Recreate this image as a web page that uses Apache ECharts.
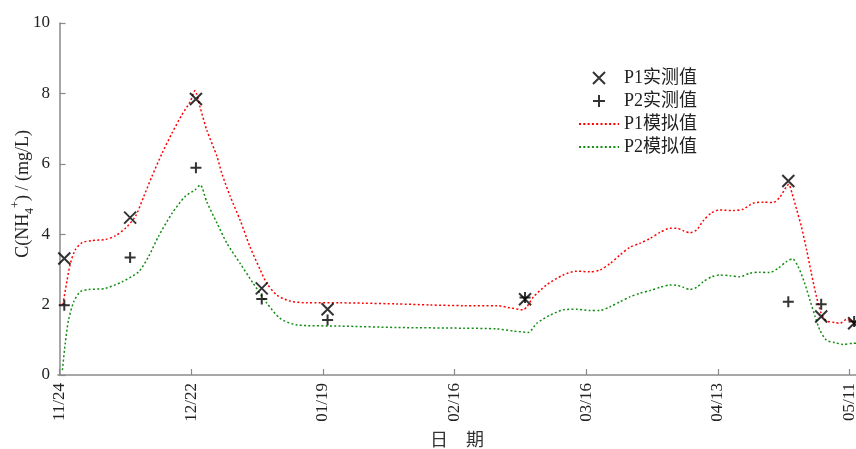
<!DOCTYPE html>
<html>
<head>
<meta charset="utf-8">
<script src="https://cdn.jsdelivr.net/npm/echarts@6/dist/echarts.min.js"></script>
<style>
  html, body { margin: 0; padding: 0; background: #ffffff; }
  #chart { width: 856px; height: 449px; }
</style>
</head>
<body>
<div id="chart"></div>
<script>
// Season runs 11/24 -> 05/11 (non-leap year); x positions are day offsets from 11/24.
const tickDates = ['11/24', '12/22', '01/19', '02/16', '03/16', '04/13', '05/11'];

// Sampling dates and measured NH4+ concentrations (mg/L)
const sampleDates = ['11/25', '12/09', '12/23', '01/06', '01/20', '03/03', '04/28', '05/05', '05/12'];
const p1Measured = [3.31, 4.47, 7.84, 2.46, 1.87, 2.15, 5.51, 1.66, 1.47];
const p2Measured = [1.98, 3.34, 5.89, 2.16, 1.56, 2.20, 2.08, 2.01, 1.52];

// Simulated series (day offset, mg/L)
const p1ModelDays = [0.7, 1.6, 2.3, 3.3, 4.8, 6.9, 9.7, 11.8, 14, 16.1, 17.9, 19.6, 21.8, 23.9, 26, 27.8, 28.8, 29.9, 31.3, 33.5,
  34.5, 36.3, 38.4, 40.5, 42.7, 44.1, 46.2, 49, 52.6, 59.7, 64.6, 71.7, 78.8, 85.9, 93, 95.8, 98.6, 99.4, 100.8, 103.6,
  107.1, 110, 112.8, 114.9, 117.1, 119.2, 121.3, 123.4, 125.6, 127.7, 129.8, 131.2, 132.7, 134.1, 135.5, 136.9, 138.7, 140.4,
  143.3, 145.4, 147.5, 149.7, 151.8, 153.2, 154.6, 155.1, 155.8, 156.8, 157.8, 158.9, 159.9, 161, 162, 163.1, 164.9, 166,
  167.4, 168.8, 169.4];
const p1Model = [2.0, 2.70, 3.17, 3.55, 3.76, 3.82, 3.85, 3.95, 4.17, 4.50, 5.07, 5.63, 6.30, 6.87, 7.39, 7.77, 8.08, 7.60, 6.96, 6.20,
  5.73, 5.07, 4.40, 3.64, 2.98, 2.60, 2.27, 2.10, 2.05, 2.05, 2.04, 2.02, 1.99, 1.97, 1.97, 1.91, 1.85, 1.94, 2.22, 2.56,
  2.84, 2.95, 2.93, 2.98, 3.17, 3.41, 3.63, 3.74, 3.88, 4.05, 4.17, 4.17, 4.10, 4.04, 4.12, 4.38, 4.61, 4.69,
  4.67, 4.71, 4.88, 4.91, 4.90, 5.05, 5.35, 5.42, 5.16, 4.69, 4.21, 3.55, 2.89, 2.22, 1.75, 1.54, 1.49, 1.47,
  1.58, 1.51, 1.50];

const p2ModelDays = [0.6, 1.2, 1.9, 3.0, 4.4, 6.2, 9.7, 13.3, 16.8, 18.9, 21, 23.9, 26.7, 28.8, 29.9, 31.3, 33.5, 35.6, 38.4, 41.2,
  44.1, 46.9, 50.5, 59.7, 71.7, 85.9, 93, 96.5, 99.7, 101.5, 104.3, 107.1, 110, 112.8, 114.9, 117.1, 119.2, 121.3, 123.4, 125.6,
  127.7, 129.8, 131.2, 132.7, 134.1, 135.5, 136.9, 138.7, 140.4, 142.6, 144.7, 146.8, 148.9, 151, 152.8, 154.6, 155.9, 157.1,
  158.5, 159.6, 160.7, 161.7, 163.1, 164.9, 166.6, 168.8, 169.4];
const p2Model = [0.14, 0.90, 1.56, 2.08, 2.37, 2.43, 2.46, 2.65, 2.93, 3.36, 3.93, 4.59, 5.07, 5.26, 5.40, 4.92, 4.31, 3.74, 3.17, 2.60,
  2.04, 1.61, 1.42, 1.39, 1.35, 1.33, 1.31, 1.25, 1.21, 1.47, 1.70, 1.85, 1.87, 1.83, 1.83, 1.94, 2.08, 2.22, 2.32, 2.40,
  2.49, 2.56, 2.55, 2.49, 2.43, 2.49, 2.65, 2.79, 2.84, 2.82, 2.79, 2.89, 2.92, 2.91, 3.03, 3.22, 3.30, 3.08,
  2.60, 2.13, 1.66, 1.28, 0.99, 0.92, 0.87, 0.90, 0.90];

const DAY = 86400000;
const ORIGIN = Date.UTC(2013, 10, 24);

function dayOffset(md) {
  const [m, d] = md.split('/').map(Number);
  const y = m >= 11 ? 2013 : 2014;
  return Math.round((Date.UTC(y, m - 1, d) - ORIGIN) / DAY);
}
function dayLabel(v) {
  const t = new Date(ORIGIN + Math.round(v) * DAY);
  const mm = String(t.getUTCMonth() + 1).padStart(2, '0');
  const dd = String(t.getUTCDate()).padStart(2, '0');
  return mm + '/' + dd;
}
const zip = (xs, ys) => xs.map((x, i) => [x, ys[i]]);

const tickDays = tickDates.map(dayOffset);
const sampleDays = sampleDates.map(dayOffset);

const FONT = '"Liberation Serif", "Times New Roman", "Noto Sans CJK SC", serif';
const AXIS_GRAY = '#8a8a8a';
const RED = '#ff0000';
const GREEN = '#128c12';
const CROSS = 'path://M0,0L10,10M10,0L0,10';
const PLUS = 'path://M5,0L5,10M0,5L10,5';

const chart = echarts.init(document.getElementById('chart'), null, { renderer: 'canvas' });

chart.setOption({
  animation: false,
  backgroundColor: '#ffffff',
  textStyle: { fontFamily: FONT },
  grid: { left: 58, right: 0, top: 23, bottom: 74, containLabel: false, outerBoundsMode: 'none' },
  legend: {
    orient: 'vertical',
    left: 573,
    top: 64,
    itemWidth: 40,
    itemHeight: 12,
    itemGap: 5,
    textStyle: { fontFamily: FONT, fontSize: 18, color: '#222' },
    data: [
      { name: 'P1实测值', icon: CROSS },
      { name: 'P2实测值', icon: PLUS },
      { name: 'P1模拟值', itemStyle: { opacity: 0 } },
      { name: 'P2模拟值', itemStyle: { opacity: 0 } }
    ]
  },
  xAxis: {
    type: 'value',
    min: -0.34,
    max: 169.4,
    name: '日\u3000期',
    nameLocation: 'middle',
    nameGap: 57,
    nameMoveOverlap: false,
    nameTextStyle: { fontFamily: FONT, fontSize: 18, color: '#333' },
    axisLine: { show: true, lineStyle: { color: AXIS_GRAY, width: 1.5 } },
    axisTick: { show: true, inside: true, length: 6, customValues: tickDays, lineStyle: { color: AXIS_GRAY, width: 1.2 } },
    axisLabel: {
      customValues: tickDays,
      rotate: 90,
      margin: 8,
      fontSize: 17,
      color: '#222',
      fontFamily: FONT,
      formatter: (v) => dayLabel(v)
    },
    splitLine: { show: false }
  },
  yAxis: {
    type: 'value',
    min: 0,
    max: 10,
    interval: 2,
    name: '{t|C(NH}{sub|4}{sup|+}{t|) / (mg/L)}',
    nameLocation: 'middle',
    nameGap: 22,
    nameMoveOverlap: false,
    nameTextStyle: {
      color: '#222',
      padding: [0, 0, 0, 10],
      rich: {
        t: { fontFamily: FONT, fontSize: 18, color: '#222', lineHeight: 26 },
        sub: { fontFamily: FONT, fontSize: 12, color: '#222', verticalAlign: 'bottom', lineHeight: 26, padding: [10, 0, 0, 0] },
        sup: { fontFamily: FONT, fontSize: 12, color: '#222', verticalAlign: 'top', lineHeight: 26, padding: [0, 0, 10, 0] }
      }
    },
    axisLine: { show: true, lineStyle: { color: AXIS_GRAY, width: 1.5 } },
    axisTick: { show: true, inside: true, length: 6, lineStyle: { color: AXIS_GRAY, width: 1.2 } },
    axisLabel: { margin: 8, fontSize: 17, color: '#222', fontFamily: FONT },
    splitLine: { show: false }
  },
  series: [
    {
      name: 'P1模拟值',
      type: 'line',
      data: zip(p1ModelDays, p1Model),
      showSymbol: false,
      symbol: 'none',
      smooth: 0.25,
      clip: true,
      lineStyle: { color: RED, width: 1.5, type: [2, 2.3] },
      itemStyle: { color: RED },
      z: 2
    },
    {
      name: 'P2模拟值',
      type: 'line',
      data: zip(p2ModelDays, p2Model),
      showSymbol: false,
      symbol: 'none',
      smooth: 0.25,
      clip: true,
      lineStyle: { color: GREEN, width: 1.5, type: [2, 2.3] },
      itemStyle: { color: GREEN },
      z: 2
    },
    {
      name: 'P1实测值',
      type: 'scatter',
      data: zip(sampleDays, p1Measured),
      symbol: CROSS,
      symbolSize: 12,
      clip: false,
      itemStyle: { color: 'rgba(0,0,0,0)', borderColor: '#000', borderWidth: 2 },
      z: 4
    },
    {
      name: 'P2实测值',
      type: 'scatter',
      data: zip(sampleDays, p2Measured),
      symbol: PLUS,
      symbolSize: 11,
      clip: false,
      itemStyle: { color: 'rgba(0,0,0,0)', borderColor: '#000', borderWidth: 2 },
      z: 4
    }
  ]
});
</script>
</body>
</html>
